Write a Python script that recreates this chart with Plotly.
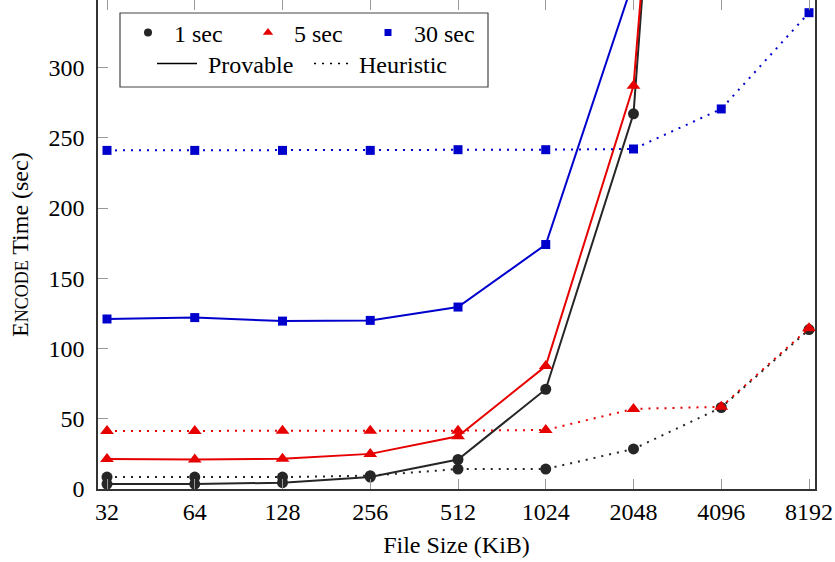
import plotly.graph_objects as go
import math

sizes = [32, 64, 128, 256, 512, 1024, 2048, 4096, 8192]
tick_labels = ["32", "64", "128", "256", "512", "1024", "2048", "4096", "8192"]

# Provable (solid)
prov_1s = [3.5, 3.5, 4.5, 8.5, 21, 71, 267, 1110]
prov_5s = [21.3, 21, 21.5, 25, 37.5, 87.5, 287, 1050]
prov_30s = [121, 122, 119.5, 120, 129.5, 174, 362]
# Heuristic (dotted)
heur_1s = [8.5, 8.5, 8.5, 9.5, 14.2, 14.2, 28.5, 58, 113.5]
heur_5s = [41.3, 41.3, 41.5, 41.5, 41.5, 42, 57, 58.5, 114.5]
heur_30s = [241, 241, 241, 241, 241.5, 241.5, 242, 270.5, 339]

BLACK = "#262626"
RED = "#e60000"
BLUE = "#0000cc"
FONT = "Liberation Serif"
FS = 24
DOT = "2px,6px"
NB = "\u00a0"

fig = go.Figure()

series = [
    (prov_1s, BLACK, "circle", 11, "solid"),
    (heur_1s, BLACK, "circle", 11, DOT),
    (prov_5s, RED, "triangle-up", 12, "solid"),
    (heur_5s, RED, "triangle-up", 12, DOT),
    (prov_30s, BLUE, "square", 9, "solid"),
    (heur_30s, BLUE, "square", 9, DOT),
]
for vals, col, sym, ms, dash in series:
    fig.add_trace(go.Scatter(
        x=sizes[:len(vals)], y=vals, mode="lines+markers",
        line=dict(color=col, width=2, dash=dash),
        marker=dict(color=col, symbol=sym, size=ms),
        showlegend=False, cliponaxis=True))

# invisible trace to anchor top tick axis
fig.add_trace(go.Scatter(x=[sizes[0]], y=[0], xaxis="x2", mode="markers",
                         marker=dict(opacity=0), showlegend=False, hoverinfo="skip"))

# legend row 1: markers
for name, col, sym, ms in [("1 sec", BLACK, "circle", 8), ("5 sec", RED, "triangle-up", 9),
                           ("30 sec", BLUE, "square", 7)]:
    fig.add_trace(go.Scatter(x=[None], y=[None], mode="markers", name=NB + name,
                             marker=dict(color=col, symbol=sym, size=ms), legend="legend"))
# legend row 2: lines
for name, dash in [(NB + "Provable", "solid"), ("Heuristic", DOT)]:
    fig.add_trace(go.Scatter(x=[None], y=[None], mode="lines", name=name,
                             line=dict(color="black", width=1.5, dash=dash), legend="legend2"))

L, R, T, B = 98, 20, 0, 73
W, H = 835, 562
pw = W - L - R
ph = H - T - B
lo = 4.8974
hi = lo + pw / 87.75
xr = [lo * math.log10(2), hi * math.log10(2)]

def px_x(p):
    return (p - L) / pw

def px_y(p):
    return (H - B - p) / ph

axis_common = dict(ticks="inside", ticklen=10, tickwidth=1.2, tickcolor="#999999",
                   showgrid=False, zeroline=False,
                   tickfont=dict(family=FONT, size=FS, color="black"))

fig.update_layout(
    width=W, height=H,
    margin=dict(l=L, r=R, t=T, b=B),
    paper_bgcolor="white", plot_bgcolor="white",
    font=dict(family=FONT, size=FS, color="black"),
    xaxis=dict(type="log", range=xr, tickvals=sizes, ticktext=tick_labels,
               showline=True, linecolor="#333333", linewidth=1.5, mirror=False,
               title=dict(text="File Size (KiB)", font=dict(family=FONT, size=FS), standoff=13),
               **axis_common),
    xaxis2=dict(type="log", range=xr, tickvals=sizes, overlaying="x", side="top",
                anchor="y", showticklabels=False, showline=False, ticks="inside",
                ticklen=10, tickwidth=1.2, tickcolor="#999999", showgrid=False, zeroline=False),
    yaxis=dict(range=[0, ph / 1.405], tickvals=[0, 50, 100, 150, 200, 250, 300],
               showline=True, linecolor="#333333", linewidth=1.5, mirror=True,
               ticklabelstandoff=7,
               **axis_common),
    legend=dict(orientation="h", x=px_x(128), y=px_y(33), xanchor="left", yanchor="middle",
                bgcolor="rgba(0,0,0,0)", borderwidth=0, entrywidth=75, entrywidthmode="pixels",
                font=dict(family=FONT, size=FS, color="black"), itemclick=False),
    legend2=dict(orientation="h", x=px_x(152), y=px_y(64), xanchor="left", yanchor="middle",
                 bgcolor="rgba(0,0,0,0)", borderwidth=0, entrywidth=102, entrywidthmode="pixels",
                 itemwidth=40,
                 font=dict(family=FONT, size=FS, color="black"), itemclick=False),
    shapes=[dict(type="rect", xref="paper", yref="paper",
                 x0=px_x(120), x1=px_x(488), y0=px_y(87), y1=px_y(13),
                 line=dict(color="#444444", width=1.2), fillcolor="white", layer="above")],
    annotations=[dict(text="E<span style='font-size:18px'>NCODE</span> Time (sec)",
                      xref="paper", yref="paper", x=px_x(20), y=px_y(245),
                      xanchor="center", yanchor="middle", textangle=-90, showarrow=False,
                      font=dict(family=FONT, size=FS, color="black"))],
)

fig.write_html("out.html")
